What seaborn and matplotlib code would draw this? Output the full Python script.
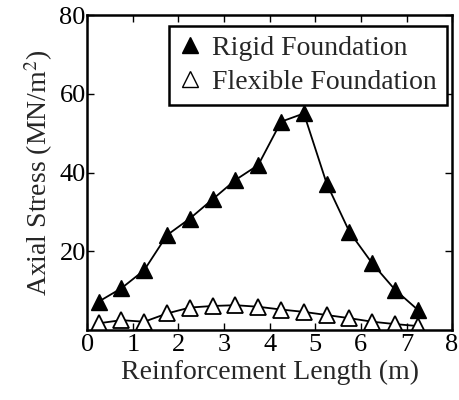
import matplotlib
matplotlib.use("Agg")
import matplotlib.pyplot as plt
from matplotlib.lines import Line2D
import seaborn as sns
import pandas as pd

length_m = [0.25, 0.75, 1.25, 1.75, 2.25, 2.75, 3.25, 3.75, 4.25, 4.75, 5.25, 5.75, 6.25, 6.75, 7.25]
rigid_stress = [7.2, 10.6, 15.2, 24.1, 28.3, 33.2, 38.1, 41.9, 52.9, 55.0, 37.2, 24.9, 16.9, 10.2, 5.1]
flexible_stress = [1.7, 2.5, 2.1, 4.2, 5.7, 6.1, 6.3, 5.9, 5.2, 4.6, 3.8, 3.0, 2.1, 1.5, 1.0]
series_names = ["Rigid Foundation", "Flexible Foundation"]
x_ticks = [0, 1, 2, 3, 4, 5, 6, 7, 8]
y_ticks = [20, 40, 60, 80]

sns.set_style("ticks")
plt.rcParams['font.family'] = ['Liberation Serif', 'DejaVu Serif']
plt.rcParams['mathtext.fontset'] = 'stix'

fig = plt.figure(figsize=(4.59, 4.0), dpi=100)
ax = fig.add_axes([0.19, 0.175, 0.795, 0.7875])

df_r = pd.DataFrame({"x": length_m, "y": rigid_stress})
df_f = pd.DataFrame({"x": length_m, "y": flexible_stress})

sns.lineplot(data=df_r, x="x", y="y", ax=ax, color="black", lw=1.3,
             marker="^", markersize=11, markerfacecolor="black",
             markeredgecolor="black", markeredgewidth=1.0)
sns.lineplot(data=df_f, x="x", y="y", ax=ax, color="black", lw=1.3,
             marker="^", markersize=11, markerfacecolor="white",
             markeredgecolor="black", markeredgewidth=1.3)

ax.set_xlim(0, 8)
ax.set_ylim(0, 80)
ax.set_xticks(x_ticks)
ax.set_yticks(y_ticks)
ax.set_xticklabels([str(t) for t in x_ticks])
ax.set_yticklabels([str(t) for t in y_ticks])
ax.tick_params(direction="in", top=True, right=True, length=5, width=1.0,
               labelsize=19, pad=3, colors="black")
ax.tick_params(axis="y", pad=1)
for s in ax.spines.values():
    s.set_visible(True)
    s.set_linewidth(1.8)
    s.set_color("black")

ax.set_xlabel("Reinforcement Length (m)", fontsize=20, labelpad=3)
ax.set_ylabel("Axial Stress (MN/m$^2$)", fontsize=20, labelpad=3)

handles = [
    Line2D([], [], ls="none", marker="^", markersize=11, markerfacecolor="black", markeredgecolor="black"),
    Line2D([], [], ls="none", marker="^", markersize=11, markerfacecolor="white", markeredgecolor="black"),
]
leg = ax.legend(handles, series_names, loc="upper right", bbox_to_anchor=(0.985, 0.965),
                fontsize=20, frameon=True, fancybox=False, edgecolor="black",
                framealpha=1, handlelength=0.8, handletextpad=0.4, borderpad=0.35,
                labelspacing=0.3, borderaxespad=0)
leg.get_frame().set_linewidth(1.8)

fig.savefig("out.png", dpi=100)
